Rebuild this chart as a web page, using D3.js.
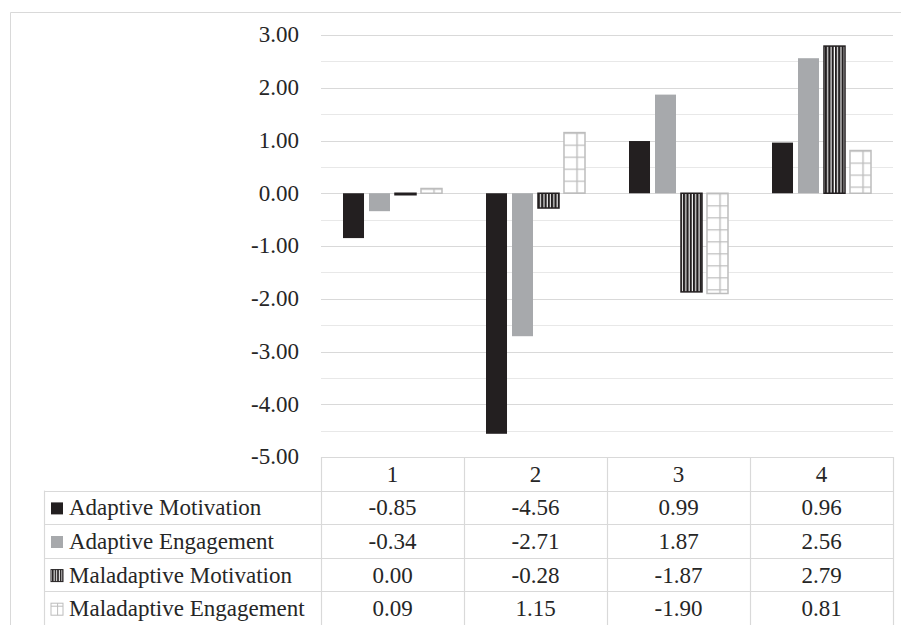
<!DOCTYPE html>
<html><head><meta charset="utf-8">
<script src="https://cdn.jsdelivr.net/npm/d3@7"></script>
<style>body{margin:0;background:#fff}</style>
</head><body><svg id="c" width="901" height="625"></svg>
<script>
const categories = ["1","2","3","4"];
const seriesNames = ["Adaptive Motivation","Adaptive Engagement","Maladaptive Motivation","Maladaptive Engagement"];
const adaptiveMotivation = [-0.85,-4.56,0.99,0.96];
const adaptiveEngagement = [-0.34,-2.71,1.87,2.56];
const maladaptiveMotivation = [0.00,-0.28,-1.87,2.79];
const maladaptiveEngagement = [0.09,1.15,-1.90,0.81];
const yTicks = [3,2,1,0,-1,-2,-3,-4,-5];
const seriesValues = [adaptiveMotivation, adaptiveEngagement, maladaptiveMotivation, maladaptiveEngagement];

const svg = d3.select("#c");
const FONT = "Times New Roman";
const FS = 23;
const TXT = "#262626";
const L = 321, R = 893, T = 35, B = 457;
const y = d3.scaleLinear().domain([-5,3]).range([B,T]);
const x = d3.scaleBand().domain(categories).range([L,R]);
const xi = d3.scaleBand().domain(seriesNames).range([22, x.bandwidth()-22]).paddingInner(0.192);
const grid = "#d9d9d9";
const f2 = d3.format(".2f");
const fmt = v => f2(v).replace("\u2212","-");

const defs = svg.append("defs");
const pm = defs.append("pattern").attr("id","pmm").attr("patternUnits","userSpaceOnUse").attr("width",3.3).attr("height",10);
pm.append("rect").attr("width",3.3).attr("height",10).attr("fill","#231f20");
pm.append("rect").attr("x",2.2).attr("width",1.1).attr("height",10).attr("fill","#fff");
const pmk = defs.append("pattern").attr("id","pmmk").attr("patternUnits","userSpaceOnUse").attr("width",2.6).attr("height",10);
pmk.append("rect").attr("width",2.6).attr("height",10).attr("fill","#231f20");
pmk.append("rect").attr("x",1.6).attr("width",1).attr("height",10).attr("fill","#fff");

svg.append("path").attr("d","M10.5,625 V12.5 H901").attr("fill","none").attr("stroke",grid);

const minor = d3.range(-4.5,3,1);
svg.append("g").selectAll("line").data(minor).join("line")
  .attr("x1",L).attr("x2",R).attr("y1",d=>Math.round(y(d))+0.5).attr("y2",d=>Math.round(y(d))+0.5)
  .attr("stroke","#e8e8e8").attr("stroke-width",1);
svg.append("g").selectAll("line").data(yTicks.filter(d=>d>-5)).join("line")
  .attr("x1",L).attr("x2",R).attr("y1",d=>Math.round(y(d))+0.5).attr("y2",d=>Math.round(y(d))+0.5)
  .attr("stroke",grid).attr("stroke-width",1.2);

// y-axis labels drawn from the scale's tick values
const yl = svg.append("g").attr("fill",TXT);
yl.selectAll("text").data(yTicks).join("text")
  .attr("x",L-22).attr("y",d=>y(d)).attr("dy","0.32em").attr("text-anchor","end")
  .attr("font-family",FONT).attr("font-size",FS).text(fmt);

const barData = [];
seriesNames.forEach((s,si)=>categories.forEach((c,ci)=>barData.push({s,si,c,v:seriesValues[si][ci]})));
const bx = d=> x(d.c)+xi(d.s);
barData.filter(d=>d.si===3).forEach((d,i)=>{
  const w = xi.bandwidth();
  const p = defs.append("pattern").attr("id","pme"+i).attr("patternUnits","userSpaceOnUse")
    .attr("x",bx(d)).attr("y",Math.min(y(0),y(d.v))).attr("width",w).attr("height",12);
  p.append("rect").attr("width",w).attr("height",12).attr("fill","#fff");
  p.append("line").attr("x1",0).attr("x2",w).attr("y1",0.5).attr("y2",0.5).attr("stroke","#bdbdbd").attr("stroke-width",1.4);
  p.append("line").attr("x1",w*0.62).attr("x2",w*0.62).attr("y1",0).attr("y2",12).attr("stroke","#bdbdbd").attr("stroke-width",1.4);
  d.pid = "pme"+i;
});
svg.append("g").selectAll("rect").data(barData).join("rect")
  .attr("x",bx).attr("width",xi.bandwidth())
  .attr("y",d=>Math.min(y(0),y(d.v))).attr("height",d=>Math.max(Math.abs(y(d.v)-y(0)),1.5))
  .attr("fill",d=>d.si===0?"#231f20":d.si===1?"#a7a9ac":d.si===2?"url(#pmm)":`url(#${d.pid})`)
  .attr("stroke",d=>d.si===2?"#231f20":d.si===3?"#bdbdbd":"none")
  .attr("stroke-width",d=>d.si>=2?1.5:0);

const rowTop = 457, rowH = 33.6;
const ty = i => rowTop + rowH*i;
const cols = [L, ...categories.map(c=>x(c)+x.bandwidth())];
const tbl = svg.append("g");
tbl.append("line").attr("x1",L).attr("x2",R).attr("y1",ty(0)+0.5).attr("y2",ty(0)+0.5).attr("stroke",grid).attr("stroke-width",1.2);
tbl.selectAll("line.h").data(d3.range(1,6)).join("line").attr("class","h")
  .attr("x1",44).attr("x2",R).attr("y1",i=>Math.round(ty(i))+0.5).attr("y2",i=>Math.round(ty(i))+0.5).attr("stroke",grid).attr("stroke-width",1.2);
tbl.selectAll("line.v").data(cols).join("line").attr("class","v")
  .attr("x1",d=>Math.round(d)+0.5).attr("x2",d=>Math.round(d)+0.5).attr("y1",ty(0)).attr("y2",625).attr("stroke",grid).attr("stroke-width",1.2);
tbl.append("line").attr("x1",44.5).attr("x2",44.5).attr("y1",ty(1)).attr("y2",625).attr("stroke",grid).attr("stroke-width",1.2);

const tt = svg.append("g").attr("fill",TXT);
tt.selectAll("text.hd").data(categories).join("text").attr("class","hd")
  .attr("x",c=>x(c)+x.bandwidth()/2).attr("y",ty(0)+rowH/2).attr("dy","0.35em")
  .attr("text-anchor","middle").attr("font-family",FONT).attr("font-size",FS).text(c=>c);
seriesNames.forEach((s,si)=>{
  const cy = ty(si+1)+rowH/2;
  const kx = 51, ks = 12;
  const key = tbl.append("rect").attr("x",kx).attr("y",cy-ks/2+1).attr("width",ks).attr("height",ks);
  if(si===0) key.attr("fill","#231f20");
  else if(si===1) key.attr("fill","#a7a9ac");
  else if(si===2) key.attr("fill","url(#pmmk)").attr("stroke","#231f20").attr("stroke-width",1);
  else {
    key.attr("fill","#fff").attr("stroke","#bdbdbd").attr("stroke-width",1);
    tbl.append("line").attr("x1",kx).attr("x2",kx+ks).attr("y1",cy-ks/2+4).attr("y2",cy-ks/2+4).attr("stroke","#bdbdbd");
    tbl.append("line").attr("x1",kx+ks*0.55).attr("x2",kx+ks*0.55).attr("y1",cy-ks/2+1).attr("y2",cy+ks/2+1).attr("stroke","#bdbdbd");
  }
  tt.append("text").attr("x",69).attr("y",cy).attr("dy","0.35em")
    .attr("font-family",FONT).attr("font-size",FS).text(s);
  tt.selectAll(null).data(categories).join("text")
    .attr("x",c=>x(c)+x.bandwidth()/2).attr("y",cy).attr("dy","0.35em")
    .attr("text-anchor","middle").attr("font-family",FONT).attr("font-size",FS)
    .text((c,ci)=>fmt(seriesValues[si][ci]));
});
</script></body></html>
